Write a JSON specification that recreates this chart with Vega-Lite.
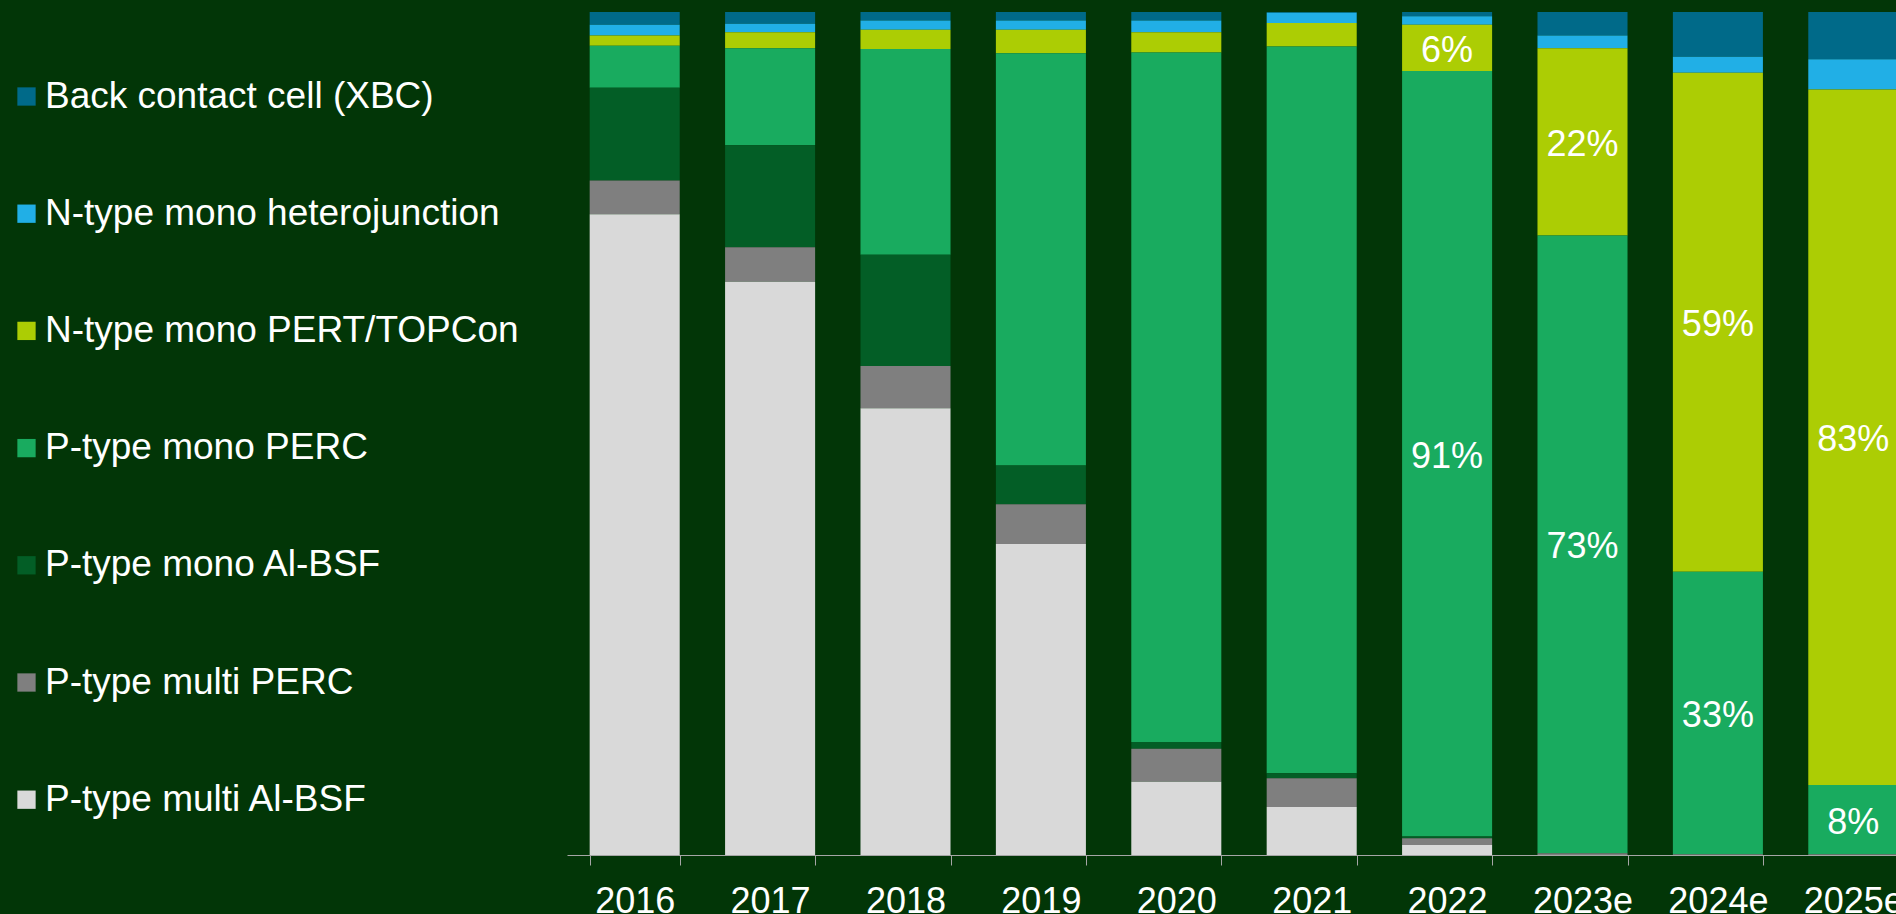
{
  "$schema": "https://vega.github.io/schema/vega-lite/v6.json",
  "autosize": {"type": "none"},
  "padding": {"left": 567, "top": 12, "right": 0, "bottom": 59},
  "width": 1329,
  "height": 843,
  "background": "#023607",
  "config": {
    "view": {"stroke": null},
    "font": "Liberation Sans"
  },
  "data": {
    "values": [
      {"year": "2016", "tech": "Back contact cell (XBC)", "rank": 7, "value": 1.5},
      {"year": "2016", "tech": "N-type mono heterojunction", "rank": 6, "value": 1.3},
      {"year": "2016", "tech": "N-type mono PERT/TOPCon", "rank": 5, "value": 1.2},
      {"year": "2016", "tech": "P-type mono PERC", "rank": 4, "value": 5.0},
      {"year": "2016", "tech": "P-type mono Al-BSF", "rank": 3, "value": 11.0},
      {"year": "2016", "tech": "P-type multi PERC", "rank": 2, "value": 4.0},
      {"year": "2016", "tech": "P-type multi Al-BSF", "rank": 1, "value": 76.0},
      {"year": "2017", "tech": "Back contact cell (XBC)", "rank": 7, "value": 1.4},
      {"year": "2017", "tech": "N-type mono heterojunction", "rank": 6, "value": 1.0},
      {"year": "2017", "tech": "N-type mono PERT/TOPCon", "rank": 5, "value": 1.9},
      {"year": "2017", "tech": "P-type mono PERC", "rank": 4, "value": 11.5},
      {"year": "2017", "tech": "P-type mono Al-BSF", "rank": 3, "value": 12.1},
      {"year": "2017", "tech": "P-type multi PERC", "rank": 2, "value": 4.1},
      {"year": "2017", "tech": "P-type multi Al-BSF", "rank": 1, "value": 68.0},
      {"year": "2018", "tech": "Back contact cell (XBC)", "rank": 7, "value": 1.0},
      {"year": "2018", "tech": "N-type mono heterojunction", "rank": 6, "value": 1.1},
      {"year": "2018", "tech": "N-type mono PERT/TOPCon", "rank": 5, "value": 2.3},
      {"year": "2018", "tech": "P-type mono PERC", "rank": 4, "value": 24.4},
      {"year": "2018", "tech": "P-type mono Al-BSF", "rank": 3, "value": 13.2},
      {"year": "2018", "tech": "P-type multi PERC", "rank": 2, "value": 5.0},
      {"year": "2018", "tech": "P-type multi Al-BSF", "rank": 1, "value": 53.0},
      {"year": "2019", "tech": "Back contact cell (XBC)", "rank": 7, "value": 1.0},
      {"year": "2019", "tech": "N-type mono heterojunction", "rank": 6, "value": 1.1},
      {"year": "2019", "tech": "N-type mono PERT/TOPCon", "rank": 5, "value": 2.8},
      {"year": "2019", "tech": "P-type mono PERC", "rank": 4, "value": 48.9},
      {"year": "2019", "tech": "P-type mono Al-BSF", "rank": 3, "value": 4.6},
      {"year": "2019", "tech": "P-type multi PERC", "rank": 2, "value": 4.7},
      {"year": "2019", "tech": "P-type multi Al-BSF", "rank": 1, "value": 36.9},
      {"year": "2020", "tech": "Back contact cell (XBC)", "rank": 7, "value": 1.0},
      {"year": "2020", "tech": "N-type mono heterojunction", "rank": 6, "value": 1.4},
      {"year": "2020", "tech": "N-type mono PERT/TOPCon", "rank": 5, "value": 2.4},
      {"year": "2020", "tech": "P-type mono PERC", "rank": 4, "value": 81.8},
      {"year": "2020", "tech": "P-type mono Al-BSF", "rank": 3, "value": 0.8},
      {"year": "2020", "tech": "P-type multi PERC", "rank": 2, "value": 3.9},
      {"year": "2020", "tech": "P-type multi Al-BSF", "rank": 1, "value": 8.7},
      {"year": "2021", "tech": "Back contact cell (XBC)", "rank": 7, "value": 0.1},
      {"year": "2021", "tech": "N-type mono heterojunction", "rank": 6, "value": 1.2},
      {"year": "2021", "tech": "N-type mono PERT/TOPCon", "rank": 5, "value": 2.8},
      {"year": "2021", "tech": "P-type mono PERC", "rank": 4, "value": 86.2},
      {"year": "2021", "tech": "P-type mono Al-BSF", "rank": 3, "value": 0.6},
      {"year": "2021", "tech": "P-type multi PERC", "rank": 2, "value": 3.4},
      {"year": "2021", "tech": "P-type multi Al-BSF", "rank": 1, "value": 5.7},
      {"year": "2022", "tech": "Back contact cell (XBC)", "rank": 7, "value": 0.5},
      {"year": "2022", "tech": "N-type mono heterojunction", "rank": 6, "value": 1.0},
      {"year": "2022", "tech": "N-type mono PERT/TOPCon", "rank": 5, "value": 5.5, "label": "6%"},
      {"year": "2022", "tech": "P-type mono PERC", "rank": 4, "value": 90.8, "label": "91%"},
      {"year": "2022", "tech": "P-type mono Al-BSF", "rank": 3, "value": 0.2},
      {"year": "2022", "tech": "P-type multi PERC", "rank": 2, "value": 0.8},
      {"year": "2022", "tech": "P-type multi Al-BSF", "rank": 1, "value": 1.2},
      {"year": "2023e", "tech": "Back contact cell (XBC)", "rank": 7, "value": 2.8},
      {"year": "2023e", "tech": "N-type mono heterojunction", "rank": 6, "value": 1.5},
      {"year": "2023e", "tech": "N-type mono PERT/TOPCon", "rank": 5, "value": 22.2, "label": "22%"},
      {"year": "2023e", "tech": "P-type mono PERC", "rank": 4, "value": 73.3, "label": "73%"},
      {"year": "2023e", "tech": "P-type mono Al-BSF", "rank": 3, "value": 0},
      {"year": "2023e", "tech": "P-type multi PERC", "rank": 2, "value": 0.2},
      {"year": "2023e", "tech": "P-type multi Al-BSF", "rank": 1, "value": 0},
      {"year": "2024e", "tech": "Back contact cell (XBC)", "rank": 7, "value": 5.3},
      {"year": "2024e", "tech": "N-type mono heterojunction", "rank": 6, "value": 1.9},
      {"year": "2024e", "tech": "N-type mono PERT/TOPCon", "rank": 5, "value": 59.2, "label": "59%"},
      {"year": "2024e", "tech": "P-type mono PERC", "rank": 4, "value": 33.5, "label": "33%"},
      {"year": "2024e", "tech": "P-type mono Al-BSF", "rank": 3, "value": 0},
      {"year": "2024e", "tech": "P-type multi PERC", "rank": 2, "value": 0.1},
      {"year": "2024e", "tech": "P-type multi Al-BSF", "rank": 1, "value": 0},
      {"year": "2025e", "tech": "Back contact cell (XBC)", "rank": 7, "value": 5.6},
      {"year": "2025e", "tech": "N-type mono heterojunction", "rank": 6, "value": 3.6},
      {"year": "2025e", "tech": "N-type mono PERT/TOPCon", "rank": 5, "value": 82.5, "label": "83%"},
      {"year": "2025e", "tech": "P-type mono PERC", "rank": 4, "value": 8.2, "label": "8%"},
      {"year": "2025e", "tech": "P-type mono Al-BSF", "rank": 3, "value": 0},
      {"year": "2025e", "tech": "P-type multi PERC", "rank": 2, "value": 0.1},
      {"year": "2025e", "tech": "P-type multi Al-BSF", "rank": 1, "value": 0}
    ]
  },
  "transform": [
    {"stack": "value", "groupby": ["year"], "sort": [{"field": "rank", "order": "ascending"}], "offset": "normalize", "as": ["y0", "y1"]}
  ],
  "encoding": {
    "x": {
      "field": "year",
      "type": "nominal",
      "sort": ["2016", "2017", "2018", "2019", "2020", "2021", "2022", "2023e", "2024e", "2025e"],
      "scale": {"range": [0, 1354], "paddingInner": 0.335, "paddingOuter": 0.1675},
      "axis": {
        "title": null,
        "labelAngle": 0,
        "labelFontSize": 36,
        "labelFont": "Liberation Sans",
        "labelColor": "#ffffff",
        "labelPadding": 19,
        "domainColor": "#a6a6a6",
        "domainWidth": 1,
        "tickColor": "#a6a6a6",
        "tickWidth": 1,
        "tickSize": 10,
        "tickBand": "extent",
        "labelOverlap": false
      }
    }
  },
  "layer": [
    {
      "mark": {"type": "bar"},
      "encoding": {
        "y": {"field": "y0", "type": "quantitative", "scale": {"domain": [0, 1]}, "axis": null},
        "y2": {"field": "y1"},
        "color": {
          "field": "tech",
          "type": "nominal",
          "scale": {
            "domain": ["Back contact cell (XBC)", "N-type mono heterojunction", "N-type mono PERT/TOPCon", "P-type mono PERC", "P-type mono Al-BSF", "P-type multi PERC", "P-type multi Al-BSF"],
            "range": ["#006a89", "#21afe6", "#accd04", "#19ab5f", "#035e26", "#7f7f7f", "#d9d9d9"]
          },
          "legend": {
            "title": null,
            "orient": "none",
            "legendX": -559,
            "legendY": 66,
            "padding": 0,
            "symbolType": "square",
            "symbolSize": 335,
            "symbolStrokeWidth": 0,
            "labelFontSize": 37,
            "labelFont": "Liberation Sans",
            "labelColor": "#ffffff",
            "labelOffset": 0,
            "rowPadding": 79.2,
            "labelLimit": 600
          }
        }
      }
    },
    {
      "transform": [
        {"filter": "isValid(datum.label)"},
        {"fold": ["y0", "y1"], "as": ["edge", "pos"]},
        {"aggregate": [{"op": "mean", "field": "pos", "as": "mid"}], "groupby": ["year", "label"]}
      ],
      "mark": {"type": "text", "fontSize": 36, "font": "Liberation Sans", "color": "#ffffff", "align": "center", "baseline": "middle", "dy": 3},
      "encoding": {
        "y": {"field": "mid", "type": "quantitative", "scale": {"domain": [0, 1]}, "axis": null},
        "text": {"field": "label", "type": "nominal"}
      }
    }
  ]
}
